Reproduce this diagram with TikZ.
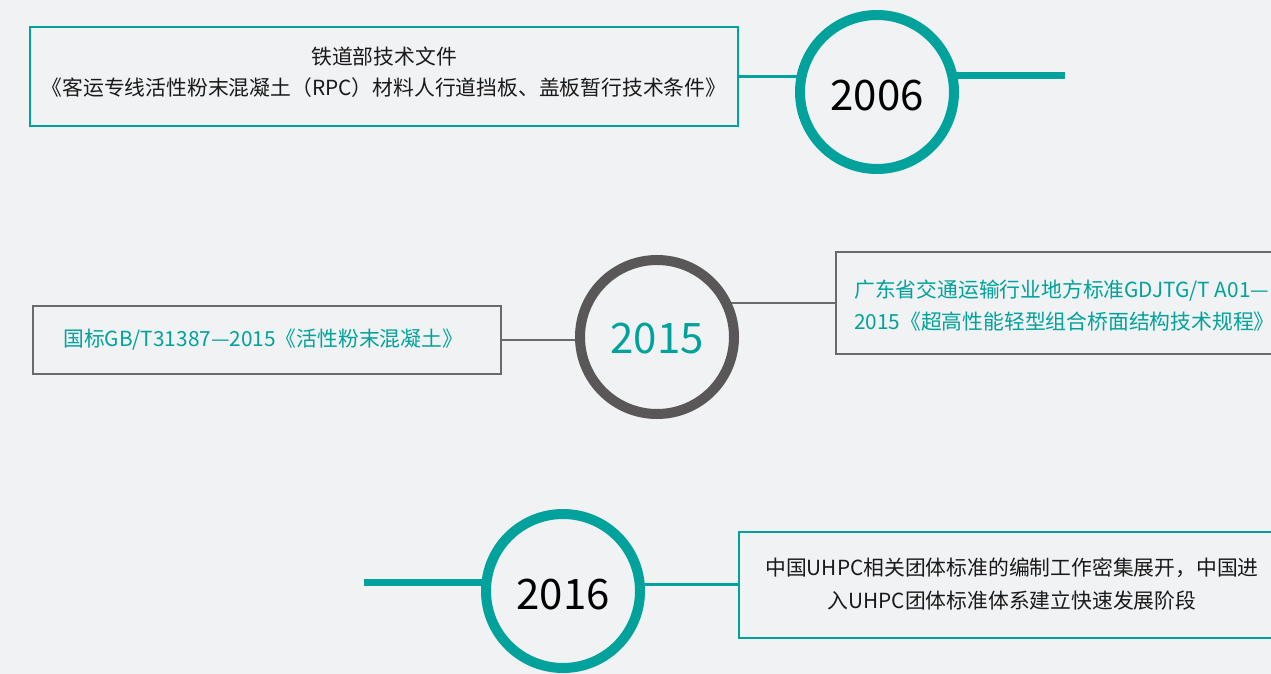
\documentclass[tikz,border=0pt]{standalone}
\usepackage{fontspec}
\setmainfont{Noto Sans CJK SC}
\pgfdeclarelayer{bglayer}
\pgfdeclarelayer{background}
\pgfsetlayers{bglayer,background,main}
\definecolor{bg}{HTML}{F1F2F4}
\definecolor{tealc}{HTML}{00A29B}
\definecolor{ringgray}{HTML}{595757}
\definecolor{boxgray}{HTML}{6A6A6A}
\definecolor{txt}{HTML}{1A1A1A}
\begin{document}
\begin{tikzpicture}[x=1pt,y=-1pt,
  ring/.style={circle, draw, line width=10pt, fill=bg, minimum size=154pt, inner sep=0pt},
  yeartext/.style={font=\fontsize{42}{50}\selectfont, text=black, inner sep=0pt},
  box/.style={rectangle, draw, line width=2pt, fill=bg, inner sep=0pt},
  boxtext/.style={inner sep=0pt, font=\fontsize{20.8}{31}\selectfont},
  thinline/.style={line width=2.2pt},
  thickline/.style={line width=7pt, draw=tealc}]
\begin{pgfonlayer}{bglayer}
\fill[bg] (0,0) rectangle (1271,674);
\end{pgfonlayer}
\useasboundingbox (0,0) rectangle (1271,674);

% year circles
\node[ring, draw=tealc] (y2006) at (877,92) {};
\node[yeartext] (l2006) at (877,96) {2006};
\node[ring, draw=ringgray] (y2015) at (657,337) {};
\node[yeartext, text=tealc] (l2015) at (657,339) {2015};
\node[ring, draw=tealc] (y2016) at (563,591) {};
\node[yeartext] (l2016) at (563,595) {2016};

% boxes
\node[box, draw=tealc, minimum width=708pt, minimum height=99pt] (b2006) at (384,76.5) {};
\node[boxtext, text=txt, align=center] (t2006) at (384,72.5)
  {铁道部技术文件\\《客运专线活性粉末混凝土（RPC）材料人行道挡板、盖板暂行技术条件》};

\node[box, draw=boxgray, minimum width=468pt, minimum height=68pt] (b2015a) at (267,340) {};
\node[boxtext, text=tealc, anchor=west] (t2015a) at (63,340) {国标GB/T31387—2015《活性粉末混凝土》};

\node[box, draw=boxgray, anchor=west, minimum width=520pt, minimum height=102pt] (b2015b) at (835,303) {};
\node[boxtext, text=tealc, align=left, anchor=west, font=\fontsize{20.8}{32}\selectfont] (t2015b) at (854,306)
  {广东省交通运输行业地方标准GDJTG/T A01—\\2015《超高性能轻型组合桥面结构技术规程》};

\node[box, draw=tealc, anchor=west, minimum width=548pt, minimum height=106pt] (b2016) at (738,584.5) {};
\node[boxtext, text=txt, align=center, font=\fontsize{20.8}{33}\selectfont] (t2016) at (1012,584.5)
  {中国UHPC相关团体标准的编制工作密集展开，中国进\\入UHPC团体标准体系建立快速发展阶段};

\coordinate (e2006) at (1065,76);
\coordinate (e2016) at (364,582);

\begin{pgfonlayer}{background}
\draw[thinline, draw=tealc] (b2006.east) -- (b2006.east -| y2006.center);
\draw[thickline] (e2006 -| y2006.center) -- (e2006);
\draw[thinline, draw=boxgray] (b2015a.east) -- (b2015a.east -| y2015.center);
\draw[thinline, draw=boxgray] (b2015b.west) -- (b2015b.west -| y2015.center);
\draw[thickline] (e2016) -- (e2016 -| y2016.center);
\draw[thinline, draw=tealc] (b2016.west) -- (b2016.west -| y2016.center);
\end{pgfonlayer}
\end{tikzpicture}
\end{document}
